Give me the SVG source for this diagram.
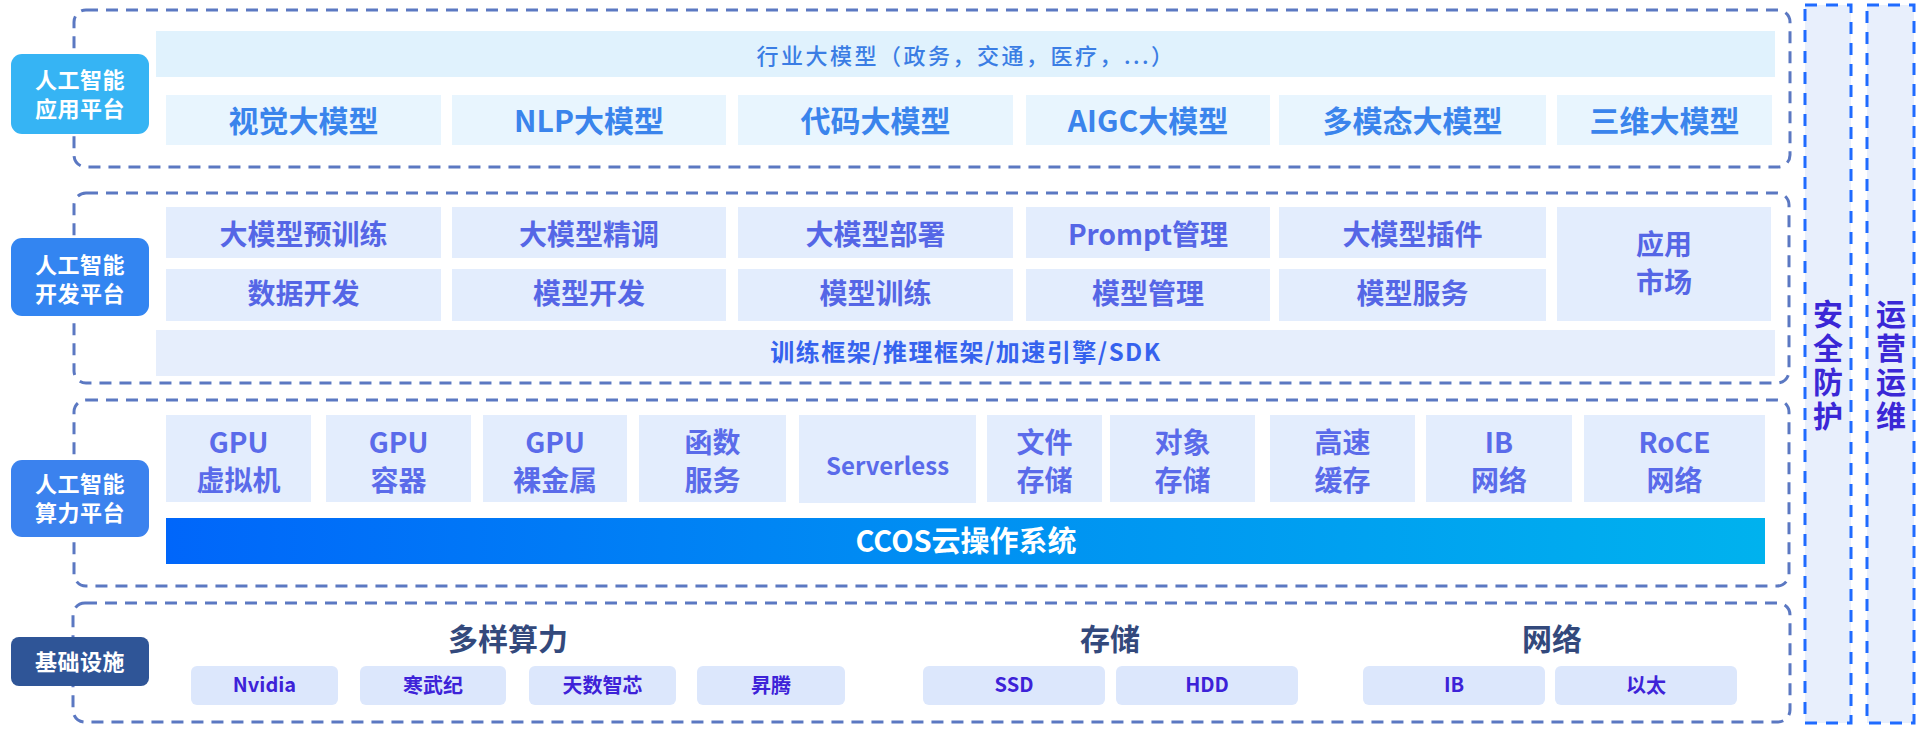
<svg xmlns="http://www.w3.org/2000/svg" width="1932" height="738" viewBox="0 0 1932 738">
  <defs>
    <linearGradient id="ccosGrad" x1="0" y1="0" x2="1" y2="0">
      <stop offset="0" stop-color="#0066FA"/>
      <stop offset="0.5" stop-color="#0090F2"/>
      <stop offset="1" stop-color="#00B2EE"/>
    </linearGradient>
    <style>
      text { font-family: 'Noto Sans CJK SC', 'Noto Sans', sans-serif; text-anchor: middle; }
      .layer { fill: none; stroke: #5B78C2; stroke-width: 3; stroke-dasharray: 12 8; }
      .col { fill: #E8EFFC; stroke: #1F6BFF; stroke-width: 3; stroke-dasharray: 12 9; }
      .lbl text { fill: #FFFFFF; font-size: 22px; font-weight: 700; letter-spacing: 0.5px; }
      .appbar { fill: #E0F2FD; }
      .app { fill: #E8F5FE; }
      .dev { fill: #E3EDFD; }
      .sdk { fill: #E6EEFC; }
      .infra { fill: #DCE7FC; }
      .t1 { fill: #3A84EC; font-size: 30px; font-weight: 700; }
      .tbar { fill: #3A7DE4; font-size: 22px; font-weight: 500; letter-spacing: 2.5px; }
      .t2 { fill: #5566E6; font-size: 28px; font-weight: 700; }
      .tsdk { fill: #3562EE; font-size: 24px; font-weight: 700; letter-spacing: 1.5px; }
      .t3 { fill: #5A6BEA; font-size: 28px; font-weight: 700; }
      .tccos { fill: #FFFFFF; font-size: 29px; font-weight: 700; }
      .th { fill: #33497C; font-size: 30px; font-weight: 700; }
      .t4 { fill: #3D22D8; font-size: 20px; font-weight: 700; }
      .tv { fill: #3A27D6; font-size: 30px; font-weight: 700; writing-mode: vertical-rl; letter-spacing: 4px; }
    </style>
  </defs>

  <!-- side columns -->
  <g id="security">
    <rect class="col" x="1805" y="5" width="46" height="718"/>
    <text class="tv" x="1828" y="367">安全防护</text>
  </g>
  <g id="operations">
    <rect class="col" x="1867" y="5" width="47" height="718"/>
    <text class="tv" x="1891" y="367">运营运维</text>
  </g>

  <!-- Layer 1: application platform -->
  <g id="layer-app">
    <rect class="layer" x="74" y="10" width="1716" height="157" rx="12"/>
    <rect class="appbar" x="156" y="31" width="1619" height="46"/>
    <text class="tbar" x="966" y="64">行业大模型（政务，交通，医疗，...）</text>
    <rect class="app" x="166" y="95" width="275" height="50"/>
    <text class="t1" x="303.5" y="132">视觉大模型</text>
    <rect class="app" x="452" y="95" width="274" height="50"/>
    <text class="t1" x="589" y="132">NLP大模型</text>
    <rect class="app" x="738" y="95" width="275" height="50"/>
    <text class="t1" x="875.5" y="132">代码大模型</text>
    <rect class="app" x="1026" y="95" width="244" height="50"/>
    <text class="t1" x="1148" y="132">AIGC大模型</text>
    <rect class="app" x="1279" y="95" width="267" height="50"/>
    <text class="t1" x="1412.5" y="132">多模态大模型</text>
    <rect class="app" x="1557" y="95" width="215" height="50"/>
    <text class="t1" x="1664.5" y="132">三维大模型</text>
    <g class="lbl">
      <rect x="11" y="54" width="138" height="80" rx="11" fill="#36B4F4"/>
      <text x="80" y="88">人工智能<tspan x="80" y="117">应用平台</tspan></text>
    </g>
  </g>

  <!-- Layer 2: development platform -->
  <g id="layer-dev">
    <rect class="layer" x="74" y="193" width="1715" height="190" rx="12"/>
    <rect class="dev" x="166" y="207" width="275" height="51"/>
    <text class="t2" x="303.5" y="245">大模型预训练</text>
    <rect class="dev" x="452" y="207" width="274" height="51"/>
    <text class="t2" x="589" y="245">大模型精调</text>
    <rect class="dev" x="738" y="207" width="275" height="51"/>
    <text class="t2" x="875.5" y="245">大模型部署</text>
    <rect class="dev" x="1026" y="207" width="244" height="51"/>
    <text class="t2" x="1148" y="245">Prompt管理</text>
    <rect class="dev" x="1279" y="207" width="267" height="51"/>
    <text class="t2" x="1412.5" y="245">大模型插件</text>
    <rect class="dev" x="166" y="269" width="275" height="52"/>
    <text class="t2" x="303.5" y="304">数据开发</text>
    <rect class="dev" x="452" y="269" width="274" height="52"/>
    <text class="t2" x="589" y="304">模型开发</text>
    <rect class="dev" x="738" y="269" width="275" height="52"/>
    <text class="t2" x="875.5" y="304">模型训练</text>
    <rect class="dev" x="1026" y="269" width="244" height="52"/>
    <text class="t2" x="1148" y="304">模型管理</text>
    <rect class="dev" x="1279" y="269" width="267" height="52"/>
    <text class="t2" x="1412.5" y="304">模型服务</text>
    <rect class="dev" x="1557" y="207" width="214" height="114"/>
    <text class="t2" x="1664" y="255">应用<tspan x="1664" y="293">市场</tspan></text>
    <rect class="sdk" x="156" y="330" width="1619" height="46"/>
    <text class="tsdk" x="966" y="361">训练框架/推理框架/加速引擎/SDK</text>
    <g class="lbl">
      <rect x="11" y="238" width="138" height="78" rx="11" fill="#3385F1"/>
      <text x="80" y="273">人工智能<tspan x="80" y="302">开发平台</tspan></text>
    </g>
  </g>

  <!-- Layer 3: compute platform -->
  <g id="layer-compute">
    <rect class="layer" x="74" y="400" width="1715" height="186" rx="12"/>
    <rect class="dev" x="166" y="415" width="145" height="87"/>
    <text class="t3" x="238.5" y="453">GPU<tspan x="238.5" y="491">虚拟机</tspan></text>
    <rect class="dev" x="326" y="415" width="145" height="87"/>
    <text class="t3" x="398.5" y="453">GPU<tspan x="398.5" y="491">容器</tspan></text>
    <rect class="dev" x="483" y="415" width="144" height="87"/>
    <text class="t3" x="555" y="453">GPU<tspan x="555" y="491">裸金属</tspan></text>
    <rect class="dev" x="639" y="415" width="147" height="87"/>
    <text class="t3" x="712.5" y="453">函数<tspan x="712.5" y="491">服务</tspan></text>
    <rect class="dev" x="799" y="415" width="177" height="88"/>
    <text class="t3" x="887.5" y="475" style="font-size:24px">Serverless</text>
    <rect class="dev" x="987" y="415" width="115" height="87"/>
    <text class="t3" x="1044.5" y="453">文件<tspan x="1044.5" y="491">存储</tspan></text>
    <rect class="dev" x="1110" y="415" width="145" height="87"/>
    <text class="t3" x="1182.5" y="453">对象<tspan x="1182.5" y="491">存储</tspan></text>
    <rect class="dev" x="1270" y="415" width="145" height="87"/>
    <text class="t3" x="1342.5" y="453">高速<tspan x="1342.5" y="491">缓存</tspan></text>
    <rect class="dev" x="1426" y="415" width="146" height="87"/>
    <text class="t3" x="1499" y="453">IB<tspan x="1499" y="491">网络</tspan></text>
    <rect class="dev" x="1584" y="415" width="181" height="87"/>
    <text class="t3" x="1674.5" y="453">RoCE<tspan x="1674.5" y="491">网络</tspan></text>
    <rect x="166" y="518" width="1599" height="46" fill="url(#ccosGrad)"/>
    <text class="tccos" x="966" y="552">CCOS云操作系统</text>
    <g class="lbl">
      <rect x="11" y="460" width="138" height="77" rx="11" fill="#3B82EE"/>
      <text x="80" y="492">人工智能<tspan x="80" y="521">算力平台</tspan></text>
    </g>
  </g>

  <!-- Layer 4: infrastructure -->
  <g id="layer-infra">
    <rect class="layer" x="73" y="603" width="1717" height="119" rx="12"/>
    <text class="th" x="508" y="650">多样算力</text>
    <text class="th" x="1110" y="650">存储</text>
    <text class="th" x="1552" y="650">网络</text>
    <rect class="infra" x="191" y="666" width="147" height="39" rx="6"/>
    <text class="t4" x="264.5" y="692">Nvidia</text>
    <rect class="infra" x="360" y="666" width="146" height="39" rx="6"/>
    <text class="t4" x="433" y="693">寒武纪</text>
    <rect class="infra" x="529" y="666" width="147" height="39" rx="6"/>
    <text class="t4" x="602.5" y="693">天数智芯</text>
    <rect class="infra" x="697" y="666" width="148" height="39" rx="6"/>
    <text class="t4" x="771" y="693">昇腾</text>
    <rect class="infra" x="923" y="666" width="182" height="39" rx="6"/>
    <text class="t4" x="1014" y="692">SSD</text>
    <rect class="infra" x="1116" y="666" width="182" height="39" rx="6"/>
    <text class="t4" x="1207" y="692">HDD</text>
    <rect class="infra" x="1363" y="666" width="182" height="39" rx="6"/>
    <text class="t4" x="1454" y="692">IB</text>
    <rect class="infra" x="1555" y="666" width="182" height="39" rx="6"/>
    <text class="t4" x="1646" y="693">以太</text>
    <g class="lbl">
      <rect x="11" y="637" width="138" height="49" rx="8" fill="#2F5597"/>
      <text x="80" y="670">基础设施</text>
    </g>
  </g>

  <g id="connectors"/>
</svg>
